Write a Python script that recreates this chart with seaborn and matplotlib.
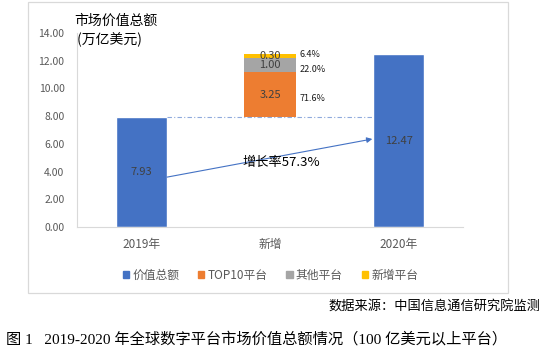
import matplotlib
matplotlib.use("Agg")
import matplotlib.pyplot as plt
import seaborn as sns
import pandas as pd
from matplotlib.patches import Rectangle

categories = ["2019年", "新增", "2020年"]
total_cats = ["2019年", "2020年"]
total_values = [7.93, 12.47]
seg_names = ["TOP10平台", "其他平台", "新增平台"]
seg_values = [3.25, 1.00, 0.30]
seg_labels = ["3.25", "1.00", "0.30"]
seg_pcts = ["71.6%", "22.0%", "6.4%"]
growth_label = "增长率57.3%"
legend_labels = ["价值总额", "TOP10平台", "其他平台", "新增平台"]
yticks = [0, 2, 4, 6, 8, 10, 12, 14]

BLUE, ORANGE, GRAY, GOLD = "#4472C4", "#ED7D31", "#A5A5A5", "#FFC000"
seg_colors = [ORANGE, GRAY, GOLD]
TXT = "#595959"

sns.set_theme(style="white")
plt.rcParams["font.family"] = ["Noto Sans CJK SC", "DejaVu Sans"]

fig = plt.figure(figsize=(5.44, 3.51), dpi=100)
ax = fig.add_axes([77/544, 1-227/351, 386/544, 194/351])

df = pd.DataFrame({"cat": total_cats, "val": total_values})
sns.barplot(data=df, x="cat", y="val", order=categories, color=BLUE,
            width=0.4, saturation=1, ax=ax)

# stacked new-growth bar
bottom = total_values[0]
mids = []
for v, c in zip(seg_values, seg_colors):
    ax.bar(1, v, bottom=bottom, width=0.4, color=c, linewidth=0)
    mids.append(bottom + v / 2)
    bottom += v

for m, lab in zip(mids, seg_labels):
    ax.text(1, m, lab, ha="center", va="center", fontsize=8, color="#404040")
pct_offsets = [-0.25, -0.35, 0.15]
for m, p, o in zip(mids, seg_pcts, pct_offsets):
    ax.text(1.23, m + o, p, ha="left", va="center", fontsize=6.5, color="#1a1a1a")

# value labels on totals
for i, v in zip([0, 2], total_values):
    ax.text(i, v / 2, f"{v:.2f}", ha="center", va="center", fontsize=8, color="#404040")

# dash-dot reference line
ax.plot([0.2, 1.8], [total_values[0], total_values[0]], color="#8FAADC",
        linestyle=(0, (4, 2, 1, 2)), linewidth=0.8)

# growth arrow
ax.annotate("", xy=(1.795, 6.35), xytext=(0.2, 3.6),
            arrowprops=dict(arrowstyle="-|>", color="#4472C4", lw=0.8,
                            mutation_scale=8, shrinkA=0, shrinkB=0))
ax.text(1.09, 4.65, growth_label, ha="center", va="center", fontsize=9.5, color="#000000")

ax.set_ylim(0, 14)
ax.set_xlim(-0.5, 2.5)
ax.set_yticks(yticks)
ax.set_yticklabels([f"{t:.2f}" for t in yticks], fontsize=7.5, color=TXT)
ax.tick_params(axis="x", labelsize=8.5, colors=TXT, length=0, pad=8)
ax.tick_params(axis="y", length=3, color="#D9D9D9", width=0.8, pad=6)
ax.set_xlabel("")
ax.set_ylabel("")
for s in ["top", "right"]:
    ax.spines[s].set_visible(False)
for s in ["left", "bottom"]:
    ax.spines[s].set_color("#D9D9D9")
    ax.spines[s].set_linewidth(0.8)
ax.set_facecolor("none")

fig.text(74/544, 1-14/351, "市场价值总额\n (万亿美元)", ha="left", va="top",
         fontsize=10, color="#000000", linespacing=1.35)

handles = [Rectangle((0, 0), 1, 1, color=c) for c in [BLUE, ORANGE, GRAY, GOLD]]
fig.legend(handles, legend_labels, loc="center", bbox_to_anchor=(0.497, 1-275/351),
           ncol=4, frameon=False, fontsize=8.5, handlelength=0.55, handleheight=0.55,
           handletextpad=0.25, columnspacing=1.6, labelcolor=TXT)

fig.patches.append(Rectangle((28/544, 1-293/351), 480/544, 291/351,
                             transform=fig.transFigure, fill=False,
                             edgecolor="#D9D9D9", linewidth=0.9))

fig.text(540/544, 1-307/351, "数据来源：中国信息通信研究院监测", ha="right",
         va="center", fontsize=9.5, color="#000000")
fig.text(6/544, 1-339/351, "图 1   2019-2020 年全球数字平台市场价值总额情况（100 亿美元以上平台）",
         ha="left", va="center", fontsize=11, color="#000000",
         family=["Liberation Serif", "Noto Sans CJK SC"])

fig.savefig("out.png", dpi=100)
